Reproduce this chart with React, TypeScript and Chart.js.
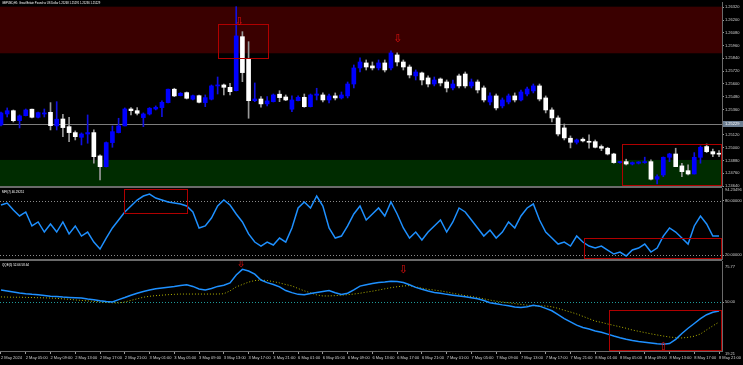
import React, { useEffect, useRef } from 'react';
import { Chart, registerables } from 'chart.js';

Chart.register(...registerables);

const FONT = "'Liberation Sans', sans-serif";
const TXT = '#d0d0d0';
const BULL = '#0000ff';
const BEAR = '#ffffff';
const BULL_WICK = '#1010e0';
const BEAR_WICK = '#9a9a9a';
const RED = '#b00000';
const FRAME = '#6a6a6a';

const TICK_INDEX = [0, 4, 8, 12, 16, 20, 24, 28, 32, 36, 40, 44, 48, 52, 56, 60, 64, 68, 72, 76, 80, 84, 88, 92, 96, 100, 104, 108, 112, 116];
const TICK_LABELS = [
  '2 May 2024', '2 May 05:00', '2 May 09:00', '2 May 13:00', '2 May 17:00', '2 May 21:00',
  '3 May 01:00', '3 May 05:00', '3 May 09:00', '3 May 13:00', '3 May 17:00', '3 May 21:00',
  '6 May 01:00', '6 May 05:00', '6 May 09:00', '6 May 13:00', '6 May 17:00', '6 May 21:00',
  '7 May 01:00', '7 May 05:00', '7 May 09:00', '7 May 13:00', '7 May 17:00', '7 May 21:00',
  '8 May 01:00', '8 May 05:00', '8 May 09:00', '8 May 13:00', '8 May 17:00', '8 May 21:00',
];

const OPEN = [
  1.25214, 1.25317, 1.25348, 1.25254, 1.25301, 1.25362, 1.25286, 1.25317, 1.25333, 1.25205,
  1.25270, 1.25198, 1.25142, 1.25098, 1.25129, 1.25142, 1.24923, 1.24822, 1.25048, 1.25142,
  1.25205, 1.25364, 1.25348, 1.25283, 1.25317, 1.25364, 1.25377, 1.25424, 1.25550, 1.25489,
  1.25518, 1.25456, 1.25489, 1.25424, 1.25456, 1.25581, 1.25590, 1.25568, 1.25536, 1.26044,
  1.25832, 1.25442, 1.25458, 1.25412, 1.25433, 1.25503, 1.25477, 1.25362, 1.25442, 1.25474,
  1.25386, 1.25493, 1.25496, 1.25449, 1.25487, 1.25468, 1.25487, 1.25599, 1.25750, 1.25797,
  1.25769, 1.25750, 1.25797, 1.25750, 1.25872, 1.25806, 1.25759, 1.25675, 1.25703, 1.25656,
  1.25599, 1.25646, 1.25618, 1.25562, 1.25675, 1.25693, 1.25581, 1.25618, 1.25562, 1.25430,
  1.25487, 1.25393, 1.25430, 1.25487, 1.25449, 1.25505, 1.25534, 1.25581, 1.25468, 1.25355,
  1.25280, 1.25186, 1.25089, 1.25051, 1.25080, 1.25057, 1.25057, 1.25011, 1.24995, 1.24941,
  1.24860, 1.24869, 1.24847, 1.24854, 1.24860, 1.24869, 1.24704, 1.24744, 1.24910, 1.24941,
  1.24829, 1.24784, 1.24753, 1.24910, 1.25011, 1.24963, 1.24948,
];
const HIGH = [
  1.25336, 1.25374, 1.25355, 1.25308, 1.25364, 1.25364, 1.25336, 1.25364, 1.25424, 1.25433,
  1.25315, 1.25286, 1.25158, 1.25139, 1.25308, 1.25167, 1.24932, 1.25054, 1.25205, 1.25277,
  1.25374, 1.25377, 1.25377, 1.25327, 1.25377, 1.25393, 1.25440, 1.25552, 1.25559, 1.25518,
  1.25524, 1.25496, 1.25496, 1.25496, 1.25590, 1.25665, 1.25599, 1.25606, 1.26326, 1.26091,
  1.25997, 1.25609, 1.25480, 1.25480, 1.25505, 1.25536, 1.25496, 1.25487, 1.25487, 1.25505,
  1.25505, 1.25559, 1.25515, 1.25505, 1.25515, 1.25524, 1.25618, 1.25778, 1.25844, 1.25825,
  1.25806, 1.25825, 1.25825, 1.25910, 1.25891, 1.25825, 1.25778, 1.25731, 1.25712, 1.25675,
  1.25665, 1.25656, 1.25637, 1.25637, 1.25693, 1.25712, 1.25646, 1.25637, 1.25581, 1.25515,
  1.25505, 1.25468, 1.25505, 1.25515, 1.25543, 1.25571, 1.25599, 1.25599, 1.25487, 1.25374,
  1.25299, 1.25223, 1.25111, 1.25082, 1.25092, 1.25120, 1.25073, 1.25026, 1.25004, 1.24948,
  1.24869, 1.24892, 1.24866, 1.24869, 1.24911, 1.24885, 1.24744, 1.24913, 1.24948, 1.24995,
  1.24854, 1.24838, 1.24954, 1.25017, 1.25035, 1.24986, 1.24972,
];
const LOW = [
  1.25205, 1.25289, 1.25242, 1.25186, 1.25299, 1.25280, 1.25280, 1.25289, 1.25167, 1.25167,
  1.25104, 1.25057, 1.25073, 1.25026, 1.25042, 1.24854, 1.24697, 1.24819, 1.25004, 1.25139,
  1.25205, 1.25308, 1.25308, 1.25198, 1.25308, 1.25355, 1.25292, 1.25421, 1.25480, 1.25487,
  1.25458, 1.25449, 1.25421, 1.25386, 1.25449, 1.25505, 1.25496, 1.25496, 1.25534, 1.25621,
  1.25277, 1.25433, 1.25380, 1.25393, 1.25430, 1.25433, 1.25442, 1.25339, 1.25440, 1.25380,
  1.25383, 1.25449, 1.25430, 1.25421, 1.25449, 1.25458, 1.25468, 1.25562, 1.25712, 1.25731,
  1.25731, 1.25731, 1.25712, 1.25731, 1.25769, 1.25731, 1.25656, 1.25637, 1.25590, 1.25571,
  1.25581, 1.25581, 1.25524, 1.25543, 1.25562, 1.25562, 1.25562, 1.25515, 1.25430, 1.25402,
  1.25355, 1.25374, 1.25412, 1.25430, 1.25440, 1.25487, 1.25515, 1.25440, 1.25327, 1.25242,
  1.25111, 1.25073, 1.24998, 1.25035, 1.25054, 1.24995, 1.24998, 1.24972, 1.24932, 1.24854,
  1.24854, 1.24838, 1.24838, 1.24847, 1.24854, 1.24697, 1.24659, 1.24728, 1.24869, 1.24822,
  1.24728, 1.24744, 1.24753, 1.24854, 1.24954, 1.24916, 1.24916,
];
const CLOSE = [
  1.25327, 1.25348, 1.25254, 1.25299, 1.25355, 1.25286, 1.25330, 1.25327, 1.25207, 1.25268,
  1.25189, 1.25142, 1.25104, 1.25129, 1.25142, 1.24916, 1.24822, 1.25048, 1.25151, 1.25205,
  1.25364, 1.25348, 1.25324, 1.25317, 1.25371, 1.25380, 1.25427, 1.25550, 1.25487, 1.25512,
  1.25465, 1.25489, 1.25427, 1.25471, 1.25581, 1.25590, 1.25568, 1.25527, 1.26051, 1.25706,
  1.25442, 1.25458, 1.25412, 1.25440, 1.25496, 1.25471, 1.25449, 1.25449, 1.25474, 1.25386,
  1.25496, 1.25505, 1.25449, 1.25487, 1.25468, 1.25496, 1.25599, 1.25750, 1.25806, 1.25759,
  1.25750, 1.25797, 1.25731, 1.25891, 1.25806, 1.25759, 1.25684, 1.25712, 1.25637, 1.25599,
  1.25637, 1.25609, 1.25562, 1.25599, 1.25581, 1.25581, 1.25618, 1.25543, 1.25449, 1.25487,
  1.25374, 1.25449, 1.25487, 1.25449, 1.25524, 1.25552, 1.25581, 1.25458, 1.25355, 1.25280,
  1.25129, 1.25092, 1.25051, 1.25073, 1.25064, 1.25051, 1.25004, 1.24995, 1.24941, 1.24860,
  1.24869, 1.24847, 1.24860, 1.24866, 1.24869, 1.24704, 1.24728, 1.24910, 1.24941, 1.24822,
  1.24775, 1.24753, 1.24910, 1.25004, 1.24963, 1.24941, 1.24939,
];

const MFI = [
  75.5, 77.7, 70.0, 63.4, 67.8, 52.4, 56.8, 45.7, 54.6, 45.7,
  56.8, 43.6, 52.4, 41.3, 45.7, 34.7, 27.0, 39.1, 50.2, 59.0,
  67.8, 74.4, 81.0, 85.4, 87.6, 83.2, 81.0, 78.8, 77.7, 76.6,
  74.4, 67.8, 50.2, 52.4, 61.2, 74.4, 81.0, 75.5, 65.6, 56.8,
  43.6, 34.7, 30.3, 34.7, 31.4, 39.1, 34.7, 50.2, 72.2, 78.8,
  72.2, 85.4, 74.4, 50.2, 39.1, 41.3, 52.4, 65.6, 74.4, 59.0,
  65.6, 72.2, 63.4, 78.8, 65.6, 50.2, 39.1, 45.7, 36.9, 45.7,
  52.4, 59.0, 45.7, 56.8, 72.2, 67.8, 59.0, 50.2, 41.3, 47.9,
  39.1, 45.7, 56.8, 50.2, 63.4, 72.2, 76.6, 59.0, 45.7, 39.1,
  32.5, 34.7, 30.3, 41.3, 34.7, 30.3, 28.1, 30.3, 25.9, 21.5,
  23.7, 19.3, 25.9, 28.1, 32.5, 23.7, 28.1, 41.3, 50.2, 45.7,
  39.1, 32.5, 52.4, 63.4, 54.6, 41.3, 41.3,
];

const QQE_RSI = [
  57.5, 56.9, 56.3, 55.7, 55.2, 54.8, 54.5, 54.1, 53.6, 53.4,
  53.1, 52.9, 52.7, 52.5, 51.9, 51.4, 50.8, 50.3, 50.0, 51.5,
  52.8, 54.2, 55.5, 56.6, 57.5, 58.3, 58.8, 59.3, 59.8, 60.4,
  60.8, 59.8, 58.2, 57.6, 58.5, 59.8, 60.5, 62.0, 67.0, 70.5,
  69.5, 67.5, 63.8, 62.2, 61.0, 59.5, 57.2, 55.9, 54.8, 54.6,
  55.4, 56.0, 56.6, 57.2, 55.8, 54.7, 55.5, 57.6, 60.0, 60.8,
  61.6, 62.3, 62.5, 63.0, 62.9, 62.2, 60.8, 59.2, 58.0, 56.9,
  56.0, 55.5, 54.8, 54.3, 53.8, 53.3, 52.7, 52.0, 50.9, 49.5,
  48.9, 48.2, 47.6, 46.9, 46.5, 47.0, 47.9, 47.4, 46.0, 44.5,
  42.0, 39.6, 37.5, 35.5, 34.0, 33.0, 31.8, 31.0, 29.8, 28.6,
  27.5, 26.6, 25.8, 25.2, 24.7, 24.2, 23.7, 23.5, 23.9, 26.5,
  30.2, 33.5, 36.5, 39.5, 42.0, 43.6, 44.4,
];
const QQE_TRAIL = [
  53.2, 53.1, 53.0, 53.0, 52.9, 52.8, 52.7, 52.6, 52.5, 52.3,
  52.0, 51.7, 51.3, 51.0, 50.7, 50.4, 50.1, 49.8, 49.5, 49.4,
  50.0, 51.0, 52.0, 53.0, 53.6, 54.0, 54.3, 54.6, 54.8, 55.0,
  55.0, 55.0, 55.0, 55.0, 55.0, 55.0, 55.2, 57.0, 59.5, 61.0,
  62.5, 63.5, 63.8, 63.5, 62.8, 62.0, 61.0, 60.1, 58.5, 57.0,
  55.8, 54.5, 53.8, 53.8, 54.0, 54.3, 54.6, 55.0, 55.5, 56.2,
  56.8, 57.5, 58.3, 59.0, 59.6, 60.1, 60.3, 59.5, 58.7, 58.0,
  57.5, 57.0, 56.3, 55.5, 54.8, 54.0, 53.5, 52.8, 52.0, 51.2,
  50.5, 50.0, 49.5, 49.0, 48.5, 48.0, 47.7, 47.5, 47.5, 47.0,
  46.0, 44.8, 43.7, 42.5, 41.0, 39.5, 38.0, 37.2, 36.2, 35.3,
  34.4, 33.5, 32.4, 31.6, 30.8, 30.0, 29.3, 28.6, 28.0, 27.6,
  27.4, 27.8, 28.5, 29.9, 32.5, 35.0, 37.4,
];

const PRICE_TICKS = [1.2632, 1.262, 1.2608, 1.2596, 1.2584, 1.2572, 1.256, 1.2548, 1.2536, 1.2512, 1.25, 1.2488, 1.2476, 1.2464];
const PRICE_RANGE = [1.2464, 1.2637];
const RED_ZONE = [1.25888, 1.26326];
const GREEN_ZONE = [1.2464, 1.24885];
const HLINE_PRICE = 1.25223;
const HLINE_LABEL = '1.25229';
const TITLE_PRICE = 'GBPUSD,H1: Great Britain Pound vs US Dollar 1.25268 1.25291 1.25236 1.25229';

const MFI_RANGE = [16, 94.23];
const MFI_LEVELS = [80, 20];
const MFI_TITLE = 'MFI(7) 46.29251';
const MFI_MAX_LABEL = '94.23496';

const QQE_RANGE = [19.21, 75.77];
const QQE_LEVEL = 50;
const QQE_TITLE = 'QQE(5) 52.66 58.64';

// annotations: [fromIndex, toIndex, topValue, bottomValue]
const PRICE_RECTS = [[35.0, 43.2, 1.26163, 1.25847], [100.3, 116.48, 1.25033, 1.2464]];
const PRICE_ARROWS = [[38.5, 1.2618, 'down'], [64.1, 1.2602, 'down']];
const MFI_RECTS = [[19.9, 30.05, 93.0, 67.0], [94.2, 116.3, 39.0, 16.0]];
const QQE_RECTS = [[98.2, 116.3, 45.0, 19.21]];
const QQE_ARROWS = [[38.8, 73.5, 'down'], [65.0, 70.0, 'down'], [107.0, 21.5, 'up']];

const X_MIN = -0.16;
const X_MAX = 116.48;

function xAxis(show: boolean): any {
  return {
    type: 'linear',
    min: X_MIN,
    max: X_MAX,
    offset: false,
    display: show,
    grid: { display: show, drawOnChartArea: false, drawTicks: true, tickLength: 3, color: '#9a9a9a' },
    border: { display: show, color: FRAME },
    afterBuildTicks: (axis: any) => {
      axis.ticks = TICK_INDEX.map((v) => ({ value: v }));
    },
    ticks: {
      display: show,
      autoSkip: false,
      maxRotation: 0,
      minRotation: 0,
      align: 'start',
      padding: 1,
      color: TXT,
      font: { family: FONT, size: 4 },
      callback: (_v: any, i: number) => TICK_LABELS[i],
    },
    afterFit: (axis: any) => {
      axis.height = show ? 14 : 0;
      axis.paddingLeft = 0;
      axis.paddingRight = 0;
    },
  };
}

function yAxis(range: number[], ticks: number[], digits: number): any {
  return {
    type: 'linear',
    position: 'right',
    min: range[0],
    max: range[1],
    grid: { drawOnChartArea: false, drawTicks: true, tickLength: 2, color: '#9a9a9a' },
    border: { display: true, color: FRAME },
    afterBuildTicks: (axis: any) => {
      axis.ticks = ticks.map((v) => ({ value: v }));
    },
    ticks: {
      autoSkip: false,
      padding: 1,
      color: TXT,
      crossAlign: 'near',
      font: { family: FONT, size: 4 },
      callback: (v: any) => Number(v).toFixed(digits),
    },
    afterFit: (axis: any) => {
      axis.width = 21;
      axis.paddingTop = 0;
      axis.paddingBottom = 0;
    },
  };
}

function drawRect(chart: any, r: any[]) {
  const { ctx, scales, chartArea } = chart;
  const x0 = Math.round(scales.x.getPixelForValue(r[0])) + 0.5;
  const x1 = Math.min(Math.round(scales.x.getPixelForValue(r[1])), chartArea.right - 1) + 0.5;
  const y0 = Math.round(scales.y.getPixelForValue(r[2])) + 0.5;
  const y1 = Math.min(Math.round(scales.y.getPixelForValue(r[3])), chartArea.bottom - 1) + 0.5;
  ctx.save();
  ctx.strokeStyle = RED;
  ctx.lineWidth = 1;
  ctx.strokeRect(x0, y0, x1 - x0, y1 - y0);
  ctx.restore();
}

function drawArrow(chart: any, a: any[]) {
  const { ctx, scales } = chart;
  const x = scales.x.getPixelForValue(a[0]);
  const y = scales.y.getPixelForValue(a[1]);
  ctx.save();
  ctx.fillStyle = '#e01010';
  ctx.font = `11px 'DejaVu Sans'`;
  ctx.textAlign = 'center';
  ctx.textBaseline = 'middle';
  ctx.fillText(a[2] === 'down' ? '\u21E9' : '\u21E7', x, y);
  ctx.restore();
}

function dotted(chart: any, v: number, color: string) {
  const { ctx, scales, chartArea } = chart;
  const y = Math.round(scales.y.getPixelForValue(v)) + 0.5;
  ctx.save();
  ctx.strokeStyle = color;
  ctx.lineWidth = 1;
  ctx.setLineDash([1, 2]);
  ctx.beginPath();
  ctx.moveTo(chartArea.left, y);
  ctx.lineTo(chartArea.right, y);
  ctx.stroke();
  ctx.restore();
}

function frameLines(chart: any, top: boolean) {
  const { ctx, chartArea } = chart;
  ctx.save();
  ctx.strokeStyle = FRAME;
  ctx.lineWidth = 1;
  ctx.beginPath();
  if (top) {
    ctx.moveTo(0, chartArea.top - 0.5);
    ctx.lineTo(chartArea.right, chartArea.top - 0.5);
  }
  ctx.moveTo(0, chartArea.bottom + 0.5);
  ctx.lineTo(chartArea.right, chartArea.bottom + 0.5);
  ctx.stroke();
  ctx.restore();
}

function text(ctx: any, s: string, x: number, y: number, color = TXT, size = 4) {
  ctx.save();
  ctx.fillStyle = color;
  ctx.font = `${size}px ${FONT}`;
  ctx.textBaseline = 'middle';
  ctx.textAlign = 'left';
  ctx.fillText(s, x, y);
  ctx.restore();
}

const base: any = {
  responsive: false,
  maintainAspectRatio: false,
  animation: false,
  devicePixelRatio: 1,
  events: [],
  plugins: { legend: { display: false }, tooltip: { enabled: false } },
};

export default function App() {
  const c1 = useRef<HTMLCanvasElement>(null);
  const c2 = useRef<HTMLCanvasElement>(null);
  const c3 = useRef<HTMLCanvasElement>(null);

  useEffect(() => {
    const idx = OPEN.map((_, i) => i);
    const up = idx.map((i) => CLOSE[i] >= OPEN[i]);

    const priceChart = new Chart(c1.current as HTMLCanvasElement, {
      type: 'bar',
      data: {
        datasets: [
          {
            data: idx.map((i) => ({ x: i, y: [OPEN[i], CLOSE[i]] })),
            backgroundColor: up.map((u) => (u ? BULL : BEAR)),
            barThickness: 4,
            minBarLength: 1,
            grouped: false,
          } as any,
          {
            data: idx.map((i) => ({ x: i, y: [LOW[i], HIGH[i]] })),
            backgroundColor: up.map((u) => (u ? BULL_WICK : BEAR_WICK)),
            barThickness: 1,
            grouped: false,
          } as any,
        ],
      },
      options: {
        ...base,
        layout: { padding: { top: 2, bottom: 1, left: 0, right: 0 } },
        scales: { x: xAxis(false), y: yAxis(PRICE_RANGE, PRICE_TICKS, 5) },
      },
      plugins: [
        {
          id: 'pricePanel',
          beforeDatasetsDraw(chart: any) {
            const { ctx, chartArea, scales } = chart;
            ctx.save();
            const rz0 = scales.y.getPixelForValue(RED_ZONE[1]);
            const rz1 = scales.y.getPixelForValue(RED_ZONE[0]);
            ctx.fillStyle = '#3a0000';
            ctx.fillRect(chartArea.left, rz0, chartArea.width, rz1 - rz0);
            const gz0 = scales.y.getPixelForValue(GREEN_ZONE[1]);
            const gz1 = scales.y.getPixelForValue(GREEN_ZONE[0]);
            ctx.fillStyle = '#002c00';
            ctx.fillRect(chartArea.left, gz0, chartArea.width, gz1 - gz0);
            const hy = Math.round(scales.y.getPixelForValue(HLINE_PRICE)) + 0.5;
            ctx.strokeStyle = '#7c7c7c';
            ctx.lineWidth = 1;
            ctx.beginPath();
            ctx.moveTo(chartArea.left, hy);
            ctx.lineTo(chartArea.right, hy);
            ctx.stroke();
            ctx.restore();
          },
          afterDatasetsDraw(chart: any) {
            PRICE_RECTS.forEach((r) => drawRect(chart, r));
            PRICE_ARROWS.forEach((a) => drawArrow(chart, a));
          },
          afterDraw(chart: any) {
            const { ctx, chartArea, scales } = chart;
            frameLines(chart, false);
            const hy = scales.y.getPixelForValue(HLINE_PRICE);
            ctx.save();
            ctx.fillStyle = '#6d7f93';
            ctx.fillRect(chartArea.right + 1, hy - 3, 20, 6);
            ctx.restore();
            text(ctx, HLINE_LABEL, chartArea.right + 3, hy, '#ffffff');
            text(ctx, TITLE_PRICE, 2, 3, '#ffffff', 2.7);
          },
        },
      ],
    } as any);

    const mfiChart = new Chart(c2.current as HTMLCanvasElement, {
      type: 'line',
      data: {
        datasets: [
          {
            data: idx.map((i) => ({ x: i, y: MFI[i] })),
            borderColor: '#1e90ff',
            borderWidth: 1.5,
            pointRadius: 0,
            tension: 0,
          },
        ],
      },
      options: {
        ...base,
        layout: { padding: { top: 1, bottom: 1, left: 0, right: 0 } },
        scales: { x: xAxis(false), y: yAxis(MFI_RANGE, MFI_LEVELS, 5) },
      },
      plugins: [
        {
          id: 'mfiPanel',
          beforeDatasetsDraw(chart: any) {
            MFI_LEVELS.forEach((v) => dotted(chart, v, '#8a8a8a'));
          },
          afterDatasetsDraw(chart: any) {
            MFI_RECTS.forEach((r) => drawRect(chart, r));
          },
          afterDraw(chart: any) {
            const { ctx, chartArea } = chart;
            frameLines(chart, true);
            text(ctx, MFI_TITLE, 2, chartArea.top + 4, '#ffffff', 3);
            text(ctx, MFI_MAX_LABEL, chartArea.right + 3, chartArea.top + 2);
          },
        },
      ],
    } as any);

    const qqeChart = new Chart(c3.current as HTMLCanvasElement, {
      type: 'line',
      data: {
        datasets: [
          {
            data: idx.map((i) => ({ x: i, y: QQE_RSI[i] })),
            borderColor: '#1e90ff',
            borderWidth: 1.5,
            pointRadius: 0,
            tension: 0,
          },
          {
            data: idx.map((i) => ({ x: i, y: QQE_TRAIL[i] })),
            borderColor: '#b4b400',
            borderWidth: 1,
            borderDash: [1, 2],
            pointRadius: 0,
            tension: 0,
          },
        ],
      },
      options: {
        ...base,
        layout: { padding: { top: 1, bottom: 0, left: 0, right: 0 } },
        scales: { x: xAxis(true), y: yAxis(QQE_RANGE, [QQE_LEVEL], 2) },
      },
      plugins: [
        {
          id: 'qqePanel',
          beforeDatasetsDraw(chart: any) {
            dotted(chart, QQE_LEVEL, '#1f9a9a');
          },
          afterDatasetsDraw(chart: any) {
            QQE_RECTS.forEach((r) => drawRect(chart, r));
            QQE_ARROWS.forEach((a) => drawArrow(chart, a));
          },
          afterDraw(chart: any) {
            const { ctx, chartArea } = chart;
            frameLines(chart, true);
            text(ctx, QQE_TITLE, 2, chartArea.top + 4, '#ffffff', 3);
            text(ctx, QQE_RANGE[1].toFixed(2), chartArea.right + 3, chartArea.top + 6);
            text(ctx, QQE_RANGE[0].toFixed(2), chartArea.right + 3, chartArea.bottom + 3);
          },
        },
      ],
    } as any);

    return () => {
      priceChart.destroy();
      mfiChart.destroy();
      qqeChart.destroy();
    };
  }, []);

  const cs = (top: number, h: number): React.CSSProperties => ({ position: 'absolute', left: 0, top, width: 743, height: h });

  return (
    <div style={{ position: 'fixed', left: 0, top: 0, width: 743, height: 365, background: '#000', overflow: 'hidden' }}>
      <canvas ref={c1} width={743} height={187} style={cs(0, 187)} />
      <canvas ref={c2} width={743} height={73} style={cs(187, 73)} />
      <canvas ref={c3} width={743} height={105} style={cs(260, 105)} />
    </div>
  );
}
